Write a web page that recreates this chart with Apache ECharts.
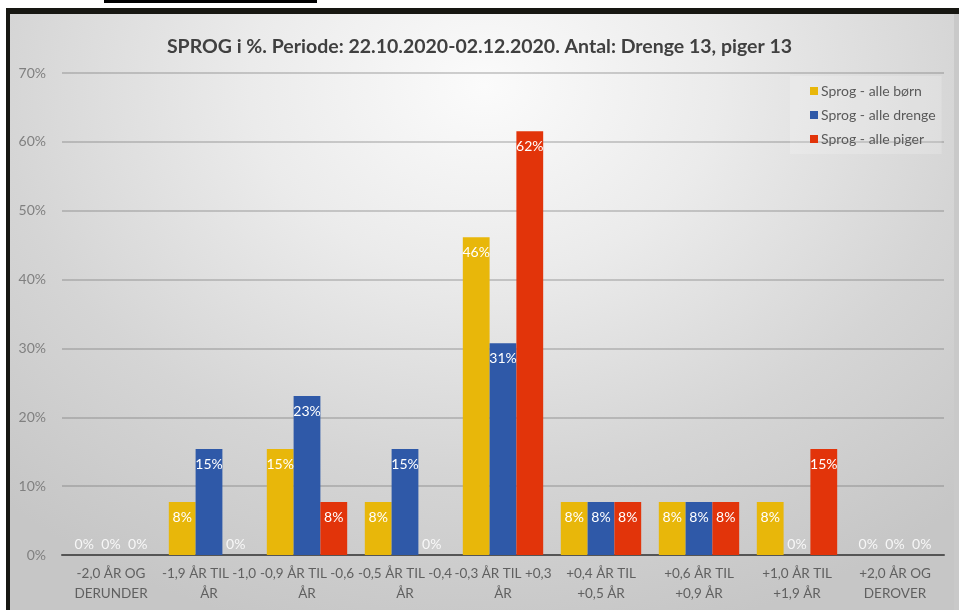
<!DOCTYPE html>
<html>
<head>
<meta charset="utf-8">
<script src="https://cdn.jsdelivr.net/npm/echarts@6/dist/echarts.min.js"></script>
<style>
  html, body { margin: 0; padding: 0; background: #ffffff; }
  #topbox { position: absolute; left: 104px; top: 0; width: 213px; height: 3px; background: #000; }
  #frame { position: absolute; left: 6px; top: 8px; width: 953px; height: 602px; background: #171712; }
  #bg { position: absolute; left: 10px; top: 14px; width: 949px; height: 596px;
        background: radial-gradient(ellipse 75% 95% at 50% 12%, #fbfbfb 0%, #ebebeb 33%, #d5d5d5 68%, #c6c6c6 100%); }
  #edge { position: absolute; left: 954px; top: 14px; width: 5px; height: 596px; background: #c9c9c9; }
  #chart { position: absolute; left: 0; top: 0; width: 959px; height: 610px; }
</style>
</head>
<body>
<div id="topbox"></div>
<div id="frame"></div>
<div id="bg"></div>
<div id="edge"></div>
<div id="chart"></div>
<script>
const titleText = 'SPROG i %. Periode: 22.10.2020-02.12.2020. Antal: Drenge 13, piger 13';
const categories = [
  '-2,0 ÅR OG\nDERUNDER',
  '-1,9 ÅR TIL -1,0\nÅR',
  '-0,9 ÅR TIL -0,6\nÅR',
  '-0,5 ÅR TIL -0,4\nÅR',
  '-0,3 ÅR TIL +0,3\nÅR',
  '+0,4 ÅR TIL\n+0,5 ÅR',
  '+0,6 ÅR TIL\n+0,9 ÅR',
  '+1,0 ÅR TIL\n+1,9 ÅR',
  '+2,0 ÅR OG\nDEROVER'
];
const seriesNames = ['Sprog - alle børn', 'Sprog - alle drenge', 'Sprog - alle piger'];
const alleBorn   = [0, 7.69, 15.38, 7.69, 46.15, 7.69, 7.69, 7.69, 0];
const alleDrenge = [0, 15.38, 23.08, 15.38, 30.77, 7.69, 7.69, 0, 0];
const allePiger  = [0, 0, 7.69, 0, 61.54, 7.69, 7.69, 15.38, 0];
const yTicks = [0, 10, 20, 30, 40, 50, 60, 70];

const colors = ['#E8B70A', '#2F59A8', '#E2340A'];
const FONT = 'Lato, "Open Sans", sans-serif';

function buildData(values) {
  return values.map(v => v === 0
    ? { value: v, label: { position: 'top', distance: 4, color: 'rgba(255,255,255,0.85)' } }
    : { value: v });
}

function makeSeries(name, values, color) {
  return {
    name: name,
    type: 'bar',
    data: buildData(values),
    barGap: '0%',
    barCategoryGap: '18%',
    itemStyle: { color: color },
    label: {
      show: true,
      position: 'insideTop',
      distance: 8,
      color: '#ffffff',
      fontFamily: FONT,
      fontSize: 14,
      formatter: p => Math.round(p.value) + '%'
    }
  };
}

const chart = echarts.init(document.getElementById('chart'), null, { renderer: 'canvas' });
chart.setOption({
  backgroundColor: 'transparent',
  animation: false,
  title: {
    text: titleText,
    left: 'center',
    top: 32,
    textStyle: { fontFamily: FONT, fontSize: 19.5, fontWeight: 'bold', color: '#404040' }
  },
  legend: {
    orient: 'vertical',
    left: 790,
    top: 76,
    padding: [8, 6, 8, 20],
    backgroundColor: 'rgba(255,255,255,0.18)',
    itemWidth: 8,
    itemHeight: 8,
    itemGap: 10,
    icon: 'rect',
    textStyle: { fontFamily: FONT, fontSize: 14, color: '#5a5a5a', padding: [0, 0, 0, -2] },
    data: seriesNames
  },
  grid: { left: 62, right: 15, top: 73, bottom: 55, containLabel: false },
  xAxis: {
    type: 'category',
    data: categories,
    axisTick: { show: false },
    axisLine: { lineStyle: { color: '#555555', width: 2 } },
    axisLabel: {
      interval: 0,
      margin: 9,
      fontFamily: FONT,
      fontSize: 13.5,
      lineHeight: 20,
      color: '#606060'
    }
  },
  yAxis: {
    type: 'value',
    min: yTicks[0],
    max: yTicks[yTicks.length - 1],
    interval: 10,
    axisLine: { show: false },
    axisTick: { show: false },
    axisLabel: {
      margin: 16,
      fontFamily: FONT,
      fontSize: 14,
      color: '#808080',
      formatter: v => v + '%'
    },
    splitLine: { lineStyle: { color: 'rgba(110,110,110,0.42)', width: 1.5 } }
  },
  series: [
    makeSeries(seriesNames[0], alleBorn, colors[0]),
    makeSeries(seriesNames[1], alleDrenge, colors[1]),
    makeSeries(seriesNames[2], allePiger, colors[2])
  ]
});
</script>
</body>
</html>
